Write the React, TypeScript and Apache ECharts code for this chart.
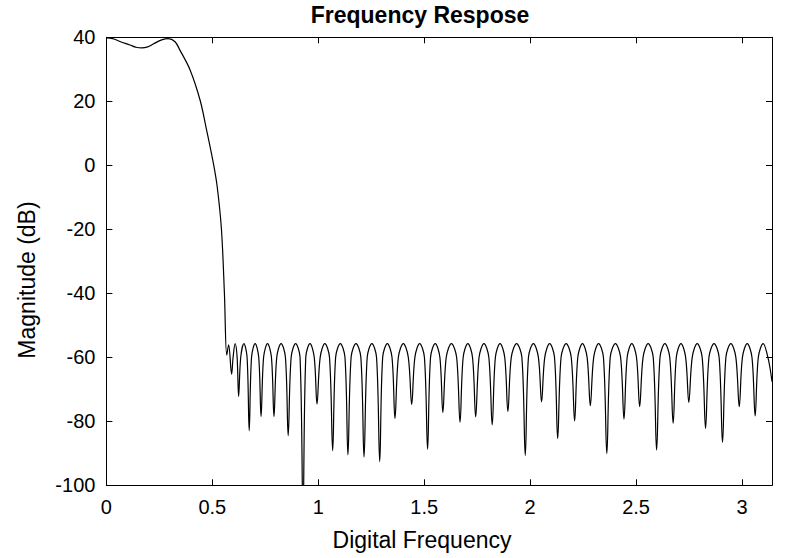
import React, { useEffect, useRef } from "react";
import * as echarts from "echarts";

// Passband: [digital frequency (rad/sample), magnitude (dB)]
const passbandPts: [number, number][] = [
  [0.0, 39.8], [0.03, 39.6], [0.064, 38.7], [0.111, 37.6], [0.14, 36.9],
  [0.167, 36.7], [0.195, 37.0], [0.221, 37.9], [0.261, 39.2], [0.292, 39.6],
];

// Transition band
const transitionPts: [number, number][] = [
  [0.324, 38.6], [0.347, 36.0], [0.395, 29.8], [0.442, 20.4], [0.473, 11.0],
  [0.505, 0.6], [0.523, -6.7], [0.543, -20.0], [0.557, -40.0], [0.568, -59.3],
];

// Stopband: troughs, lobe shoulders and lobe peaks
const stopbandPts: [number, number][] = [
  [0.577, -56.1], [0.591, -65.3],
  [0.598, -60], [0.6075, -55.7], [0.617, -60], [0.624, -72.3],
  [0.634, -60], [0.649, -55.7], [0.664, -60], [0.674, -82.9],
  [0.685, -60], [0.702, -55.7], [0.719, -60], [0.73, -78.5],
  [0.742, -60], [0.7605, -55.7], [0.779, -60], [0.791, -78.5],
  [0.804, -60], [0.8245, -55.7], [0.845, -60], [0.858, -84.5],
  [0.872, -60], [0.893, -55.7], [0.914, -60], [0.928, -110],
  [0.941, -60], [0.961, -55.7], [0.981, -60], [0.994, -74.6],
  [1.009, -60], [1.031, -55.7], [1.053, -60], [1.068, -89.2],
  [1.082, -60], [1.104, -55.7], [1.126, -60], [1.14, -90.5],
  [1.155, -60], [1.178, -55.7], [1.201, -60], [1.216, -91.2],
  [1.231, -60], [1.253, -55.7], [1.275, -60], [1.29, -92.6],
  [1.304, -60], [1.326, -55.7], [1.348, -60], [1.362, -79.1],
  [1.378, -60], [1.4015, -55.7], [1.425, -60], [1.441, -74.7],
  [1.456, -60], [1.4785, -55.7], [1.501, -60], [1.516, -88.7],
  [1.53, -60], [1.552, -55.7], [1.574, -60], [1.588, -77.2],
  [1.604, -60], [1.6285, -55.7], [1.653, -60], [1.669, -80.3],
  [1.684, -60], [1.706, -55.7], [1.728, -60], [1.743, -78.6],
  [1.759, -60], [1.782, -55.7], [1.805, -60], [1.821, -81.1],
  [1.836, -60], [1.858, -55.7], [1.88, -60], [1.895, -76.9],
  [1.911, -60], [1.936, -55.7], [1.961, -60], [1.977, -90.7],
  [1.992, -60], [2.0155, -55.7], [2.039, -60], [2.054, -73.9],
  [2.069, -60], [2.092, -55.7], [2.115, -60], [2.13, -85.4],
  [2.146, -60], [2.17, -55.7], [2.194, -60], [2.21, -79.9],
  [2.225, -60], [2.247, -55.7], [2.269, -60], [2.284, -75.1],
  [2.3, -60], [2.323, -55.7], [2.346, -60], [2.362, -90.1],
  [2.378, -60], [2.4025, -55.7], [2.427, -60], [2.443, -79.3],
  [2.458, -60], [2.48, -55.7], [2.502, -60], [2.517, -75.4],
  [2.533, -60], [2.557, -55.7], [2.581, -60], [2.597, -89.0],
  [2.613, -60], [2.636, -55.7], [2.659, -60], [2.675, -80.6],
  [2.69, -60], [2.712, -55.7], [2.734, -60], [2.749, -74.1],
  [2.765, -60], [2.7885, -55.7], [2.812, -60], [2.828, -82.2],
  [2.844, -60], [2.868, -55.7], [2.892, -60], [2.908, -86.6],
  [2.924, -60], [2.9475, -55.7], [2.971, -60], [2.987, -75.4],
  [3.002, -60], [3.0245, -55.7], [3.047, -60], [3.062, -78.3],
  [3.077, -60], [3.1, -55.7], [3.124, -60.5], [3.1416, -67.6],
];

const xMin = 0;
const xMax = Math.PI;
const xStep = 0.5;
const yMin = -100;
const yMax = 40;
const yStep = 20;

const titleText = "Frequency Respose";
const xName = "Digital Frequency";
const yName = "Magnitude (dB)";

const FONT = "'Liberation Sans', Arial, Helvetica, sans-serif";

export default function App() {
  const ref = useRef<HTMLDivElement>(null);

  useEffect(() => {
    if (!ref.current) return;
    const chart = echarts.init(ref.current, undefined, { renderer: "svg" });
    const data = [...passbandPts, ...transitionPts, ...stopbandPts];

    const axisLine = { show: true, onZero: false, lineStyle: { color: "#000", width: 1 } };
    const tick = { show: true, inside: true, length: 6, lineStyle: { color: "#000", width: 1 } };

    chart.setOption({
      animation: false,
      backgroundColor: "#fff",
      grid: { left: 106.4, right: 13, top: 37.3, bottom: 72.7, containLabel: false },
      graphic: [
        {
          type: "text",
          x: 420,
          y: 3,
          style: {
            text: titleText,
            fontFamily: FONT,
            fontSize: 23,
            fontWeight: "bold",
            fill: "#000",
            textAlign: "center",
            textVerticalAlign: "top",
          },
        },
        {
          type: "text",
          x: 422,
          y: 528,
          style: {
            text: xName,
            fontFamily: FONT,
            fontSize: 23,
            fill: "#000",
            textAlign: "center",
            textVerticalAlign: "top",
          },
        },
        {
          type: "text",
          x: 27,
          y: 280,
          rotation: Math.PI / 2,
          style: {
            text: yName,
            fontFamily: FONT,
            fontSize: 23,
            fill: "#000",
            textAlign: "center",
            textVerticalAlign: "middle",
          },
        },
      ],
      xAxis: [
        {
          type: "value",
          position: "bottom",
          min: xMin,
          max: xMax,
          interval: xStep,
          axisLine,
          axisTick: tick,
          splitLine: { show: false },
          axisLabel: {
            show: true,
            margin: 12,
            showMaxLabel: false,
            fontFamily: FONT,
            fontSize: 20,
            color: "#000",
            formatter: (v: number) => String(v),
          },
        },
        {
          type: "value",
          position: "top",
          min: xMin,
          max: xMax,
          interval: xStep,
          axisLine,
          axisTick: tick,
          splitLine: { show: false },
          axisLabel: { show: false },
        },
      ],
      yAxis: [
        {
          type: "value",
          position: "left",
          min: yMin,
          max: yMax,
          interval: yStep,
          axisLine,
          axisTick: tick,
          splitLine: { show: false },
          axisLabel: { show: true, margin: 11, fontFamily: FONT, fontSize: 20, color: "#000" },
        },
        {
          type: "value",
          position: "right",
          min: yMin,
          max: yMax,
          interval: yStep,
          axisLine,
          axisTick: tick,
          splitLine: { show: false },
          axisLabel: { show: false },
        },
      ],
      series: [
        {
          type: "line",
          xAxisIndex: 0,
          yAxisIndex: 0,
          data,
          showSymbol: false,
          symbol: "none",
          smooth: 0.35,
          clip: true,
          lineStyle: { color: "#000", width: 1.2 },
        },
      ],
    });

    return () => chart.dispose();
  }, []);

  return (
    <div
      ref={ref}
      style={{ position: "fixed", left: 0, top: 0, width: 785, height: 558, background: "#fff" }}
    />
  );
}
